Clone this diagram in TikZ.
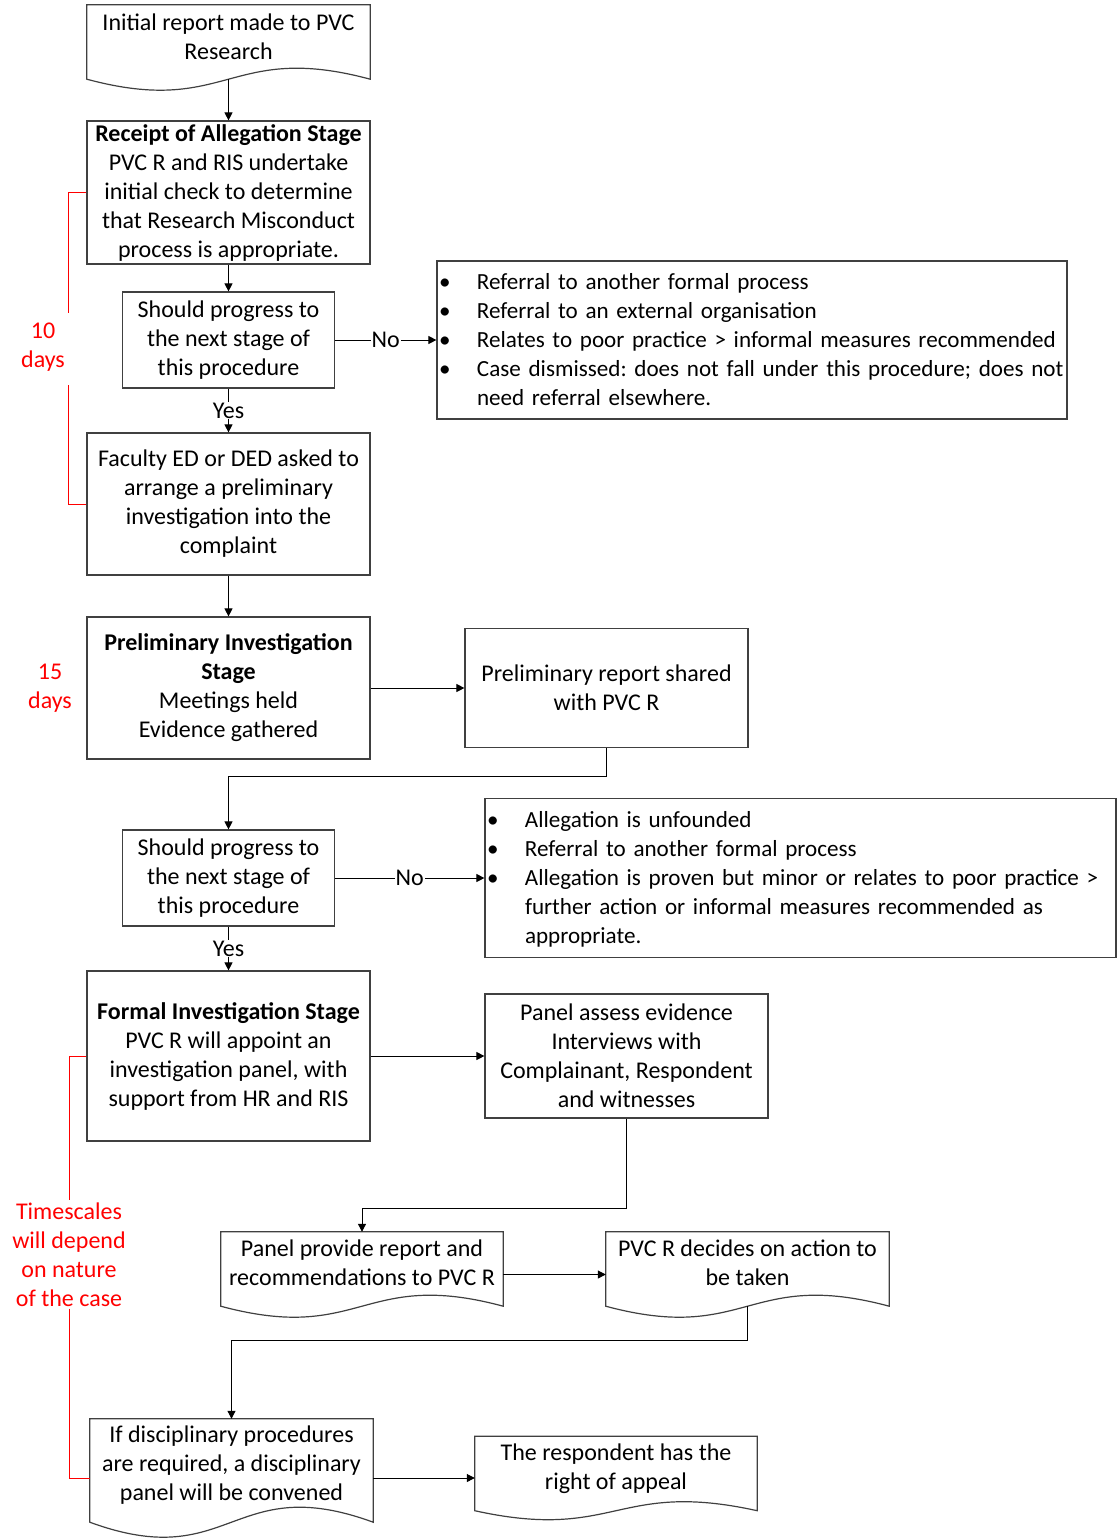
\documentclass[tikz,border=0pt]{standalone}
\usepackage{fontspec}
\setmainfont{Carlito}
\usetikzlibrary{calc, arrows.meta}

% outline of a document shape with a wavy bottom, drawn round a named node
\newcommand{\docwave}[2]{%
  \draw[docline] ($(#1.south west)+(0,#2)$) -- (#1.north west) -- (#1.north east)
    -- ($(#1.south east)+(0,#2)$)
    .. controls ($(#1.south)+(0,4.464*#2)$) and ($(#1.south)+(0,-2.464*#2)$) .. ($(#1.south west)+(0,#2)$) -- cycle;
  \coordinate (#1 wave) at ($(#1.south)+(0,#2)$);}
\newcommand{\lift}[1]{\rule[-#1]{0pt}{0pt}}
\newcommand{\bul}{\hspace*{-6pt}\textbullet}

\begin{document}
\begin{tikzpicture}[x=1pt, y=1pt, font=\fontsize{24}{29}\selectfont,
    box/.style={draw=black!75, line width=1.2pt, align=center, inner sep=2pt},
    docbox/.style={align=center, inner sep=2pt},
    docline/.style={draw=black!75, line width=1.2pt},
    listbox/.style={draw=black!75, line width=1.2pt, inner xsep=8pt, inner ysep=3pt, align=left, font=\fontsize{23.1}{29}\selectfont\frenchspacing},
    arr/.style={-{Triangle[length=8pt,width=8pt]}, line width=1pt},
    tag/.style={fill=white, inner sep=1pt},
    note/.style={red, align=center, inner sep=2pt},
    bracket/.style={red, line width=1pt}]
    \useasboundingbox (0,0) rectangle (1117,-1539);

    % main column
    \node[docbox, minimum width=283, minimum height=85] (init) at (228.5,-47.5) {Initial report made to PVC\\Research\lift{22pt}};
    \node[box, minimum width=283, minimum height=143] (receipt) at (228.5,-192.5) {\textbf{Receipt of Allegation Stage}\\PVC R and RIS undertake\\initial check to determine\\that Research Misconduct\\process is appropriate.};
    \node[box, minimum width=212, minimum height=96] (check1) at (228.5,-340) {Should progress to\\the next stage of\\this procedure};
    \node[box, minimum width=283, minimum height=142] (faculty) at (228.5,-504) {Faculty ED or DED asked to\\arrange a preliminary\\investigation into the\\complaint};
    \node[box, minimum width=283, minimum height=142] (prelim) at (228.5,-688) {\textbf{Preliminary Investigation}\\\textbf{Stage}\\Meetings held\\Evidence gathered};
    \node[box, minimum width=212, minimum height=96] (check2) at (228.5,-878) {Should progress to\\the next stage of\\this procedure};
    \node[box, minimum width=283, minimum height=170] (formal) at (228.5,-1056) {\textbf{Formal Investigation Stage}\\PVC R will appoint an\\investigation panel, with\\support from HR and RIS};
    \node[docbox, minimum width=282, minimum height=85] (panrep) at (362,-1274.5) {Panel provide report and\\recommendations to PVC R\lift{23pt}};
    \node[docbox, minimum width=283, minimum height=118] (discip) at (231.5,-1478) {If disciplinary procedures\\are required, a disciplinary\\panel will be convened\lift{29pt}};

    % right column
    \node[listbox, text width=614, minimum height=158] (refer) at (752,-340) {\noindent
      \begin{tabular}{@{}p{32pt}@{}l@{}}
        \bul\rule{0pt}{23pt} & Referral to another formal process\\
        \bul & Referral to an external organisation\\
        \bul & Relates to poor practice > informal measures recommended\\
        \bul & Case dismissed: does not fall under this procedure; does not\\
        & need referral elsewhere.
      \end{tabular}};
    \node[box, minimum width=283, minimum height=119] (prelrep) at (606.5,-688) {Preliminary report shared\\with PVC R};
    \node[listbox, text width=615, minimum height=159] (outcome) at (800.5,-878) {\noindent
      \begin{tabular}{@{}p{32pt}@{}l@{}}
        \bul\rule{0pt}{23pt} & Allegation is unfounded\\
        \bul & Referral to another formal process\\
        \bul & Allegation is proven but minor or relates to poor practice >\\
        & further action or informal measures recommended as\\
        & appropriate.
      \end{tabular}};
    \node[box, minimum width=283, minimum height=124] (panel) at (626.5,-1056) {Panel assess evidence\\Interviews with\\Complainant, Respondent\\and witnesses};
    \node[docbox, minimum width=283, minimum height=85] (pvcdec) at (747.5,-1274.5) {PVC R decides on action to\\be taken\lift{23pt}};
    \node[docbox, minimum width=282, minimum height=83] (appeal) at (616,-1478) {The respondent has the\\right of appeal\lift{23pt}};

    \docwave{init}{11}
    \docwave{panrep}{11}
    \docwave{pvcdec}{11}
    \docwave{discip}{15}
    \docwave{appeal}{9}

    % timescales
    \node[note] (days10) at (43,-347.5) {10\\days};
    \node[note] (days15) at (50,-688) {15\\days};
    \node[note] (timescale) at (69,-1254.5) {Timescales\\will depend\\on nature\\of the case};
    \coordinate (tentop) at (68,-313);
    \coordinate (tenbot) at (68,-385);
    \draw[bracket] (receipt.west) -| (tentop);
    \draw[bracket] (tenbot) |- (faculty.west);
    \draw[bracket] (formal.west) -| (timescale.north);
    \draw[bracket] (timescale.south) |- (discip.west);

    % connectors
    \draw[arr] (init wave) -- (receipt);
    \draw[arr] (receipt) -- (check1);
    \draw[arr] (check1) -- node[tag] {No} (refer);
    \draw[arr] (check1) -- node[tag] {Yes} (faculty);
    \draw[arr] (faculty) -- (prelim);
    \draw[arr] (prelim) -- (prelrep);
    \draw[arr] (prelrep.south) -- ++(0,-28) -| (check2);
    \draw[arr] (check2) -- node[tag] {No} (outcome);
    \draw[arr] (check2) -- node[tag] {Yes} (formal);
    \draw[arr] (formal) -- (panel);
    \draw[arr] (panel.south) -- ++(0,-90) -| (panrep);
    \draw[arr] (panrep) -- (pvcdec);
    \draw[arr] (pvcdec wave) -- ++(0,-34) -| (discip);
    \draw[arr] (discip) -- (appeal);
\end{tikzpicture}
\end{document}
